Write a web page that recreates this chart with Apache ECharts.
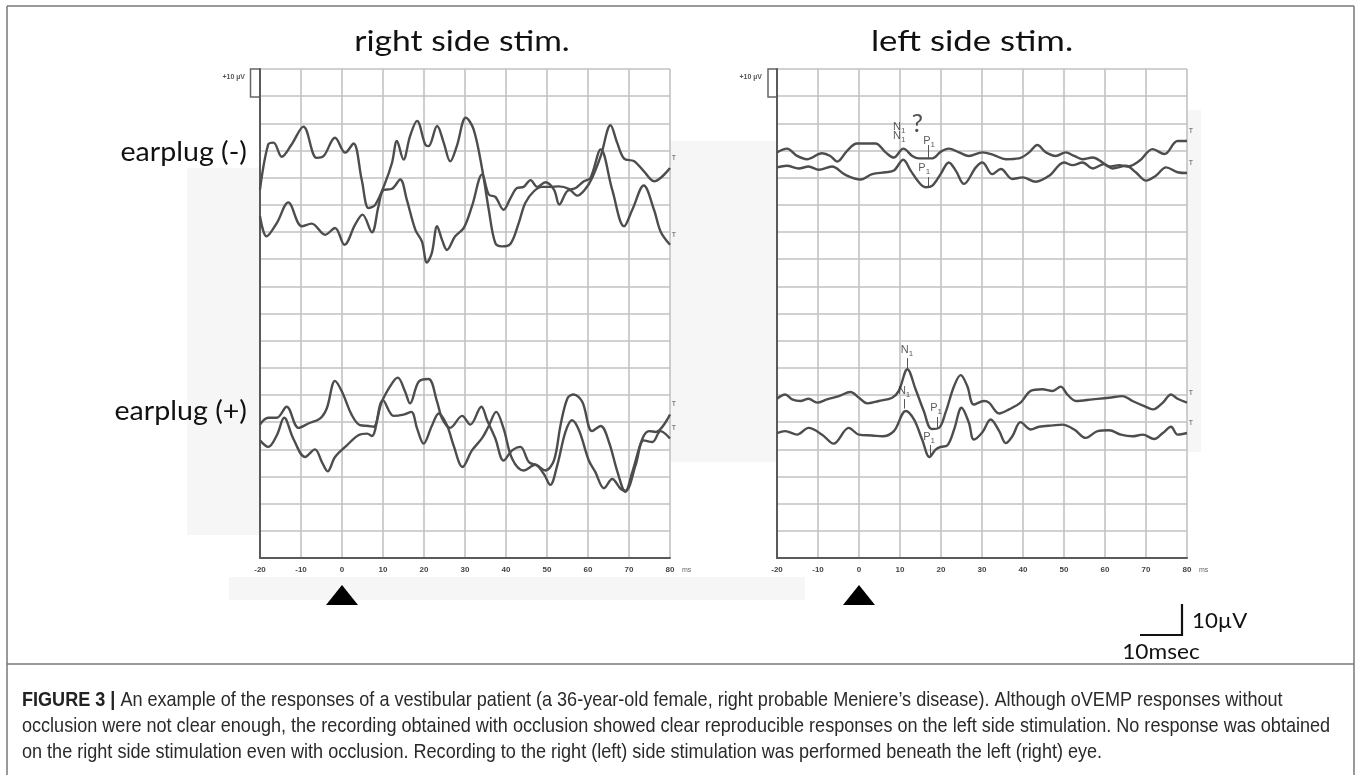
<!DOCTYPE html>
<html><head><meta charset="utf-8">
<script src="https://cdn.jsdelivr.net/npm/echarts/dist/echarts.min.js"></script>
<style>html,body{margin:0;padding:0;background:#fff}#c{width:1360px;height:775px}</style>
</head><body><div id="c"></div><script>
// ---------- DATA (time in ms, amplitude in µV on a 0..180 display scale) ----------
const timeTicks = [-20, -10, 0, 10, 20, 30, 40, 50, 60, 70, 80];
const panelTitles = ['right side stim.', 'left side stim.'];
const rowLabels = ['earplug (-)', 'earplug (+)'];

// right side stimulation, earplug (-)
const rightNoPlugA = [[-20,135.6],[-18,152.2],[-16.7,152.9],[-14.7,147.7],[-12.3,152.2],[-9.4,158.8],[-6.2,147.3],[-4.5,147.9],[-1.7,154.7],[0.8,149.2],[2.8,152.6],[4.8,139.3],[6.5,128.8],[8.1,130],[10.5,138],[12.2,145.5],[13.4,153.5],[15,146.7],[16.6,155.3],[18.3,160.9],[20.3,152.2],[21.1,151.6],[23.2,159],[24.8,152.9],[26.4,146],[28,151.6],[30.2,162.1],[32.1,157.8],[34.2,143],[35.8,128.2],[37.4,115.9],[39,114.7],[41.1,115.7],[43.1,123.3],[44.7,130.7],[46.8,135],[48.8,136.6],[50.8,136.6],[52.9,136.8],[55.3,135.9],[57.4,133.4],[59.4,135.9],[61,139.9],[63.1,147.9],[65.5,159.3],[67.1,152.9],[68.8,147],[71.2,146.1],[73.6,142.4],[76.1,138.7],[80,143.6]];
const rightNoPlugB = [[-20,125.8],[-18.4,118.4],[-15.9,123.3],[-13.1,130.9],[-9.8,122.1],[-7.4,123.1],[-4.1,119],[-1.7,121.5],[0.6,115.3],[3.2,122.7],[5,126.4],[7.3,119.9],[8.9,129.5],[10.1,135.4],[12.2,135.9],[14.2,139.3],[15.8,131.9],[17.9,120.8],[19.5,116.5],[20.7,108.8],[21.9,112.2],[23.2,122.1],[24.4,117.1],[25.6,113.4],[27.6,118.4],[29.7,121.5],[31.7,129.5],[34.2,141.2],[35.8,133.8],[37.4,132.9],[39.4,128.2],[41.1,132.5],[42.7,136.2],[44.3,136.6],[46,139.1],[47.6,136.6],[49.6,138.3],[51.7,135.6],[53,130.1],[54.9,135],[57,136.2],[59,138.7],[60.6,139.9],[63.1,150.4],[65.9,135.6],[68.8,122.1],[70.8,128.2],[73.6,137.1],[76.1,128.2],[77.7,120.2],[80,115.3]];
// right side stimulation, earplug (+)
const rightPlugA = [[-20,49.1],[-18,51.6],[-15.9,51.6],[-13.5,55.7],[-10.6,47.9],[-8.2,49.5],[-5.3,51.4],[-3.7,55.1],[-1.7,65.2],[0,61.2],[2.4,52.6],[4.4,48.9],[6.5,48.6],[7.7,48.3],[9.7,57.5],[12.2,64.3],[13.6,66.4],[15.4,61.2],[16.6,56.9],[18.7,64.9],[21.1,65.9],[23.2,57.5],[24.4,51.4],[26.4,47.9],[29.3,52.3],[31.3,49.1],[34,55.7],[35.4,50.7],[37.4,44],[39.4,35.9],[41.5,39.6],[43.5,40.9],[45.6,35.3],[47.6,34.1],[49.6,32.2],[51.7,35.9],[53.3,48.9],[55,58.8],[56.5,60.2],[58.6,57.5],[61,46.7],[63.1,48.6],[65.1,42.7],[67.2,31.6],[69.1,24.4],[70.8,31.6],[73.3,44],[74.9,46.7],[76.5,46.4],[80,52.8]];
const rightPlugB = [[-20,43.3],[-18,40.9],[-15.9,45.2],[-14.1,51.6],[-11.9,44],[-9,37.2],[-6.6,40],[-4.9,35.3],[-3.5,31.9],[-1.7,37.2],[1.2,41.5],[4,45.2],[6.1,45.8],[7.3,44.9],[10,58.1],[12.6,52.3],[15,52.8],[16.9,53.8],[18.3,47.7],[19.9,42.1],[21.9,48.6],[23.6,53.2],[25.6,48.9],[27.2,41.5],[29.4,33.5],[31.7,39.6],[34.2,44.2],[35.8,48.6],[37.6,53.8],[39.4,47.7],[41.5,36.5],[44.3,32.2],[47.1,34.3],[49.2,31],[50.8,26.9],[52.5,34.1],[54.5,46.4],[56.1,50.7],[57.8,47],[60.2,35.9],[61.8,31.6],[63.9,25.7],[65.9,29.1],[68,25.4],[69.2,24.8],[71.6,34.1],[73.6,43.3],[75.7,42.7],[77.7,46.7],[80,44]];
// left side stimulation, earplug (-)
const leftNoPlugA = [[-20,149.3],[-17.6,150.7],[-15.1,148],[-12.7,146.8],[-9,149],[-7,148],[-5.3,145.9],[-2.9,149.9],[-0.5,152.6],[4,152.6],[6.5,149.3],[8.5,147.4],[10.8,150.7],[13,148],[14.6,147.1],[17.9,147.1],[19.9,149.5],[21.9,150.7],[24.4,149.3],[26.8,148],[30.1,149.3],[32.9,148.3],[35.8,146.8],[39,147.1],[41.5,149.3],[43.5,152],[45.6,149.3],[48,148],[50.4,149.3],[52.5,148],[54.5,146.8],[57,147.4],[59.4,145.6],[61,144.1],[63.5,144.6],[65.5,144.1],[68.4,146.2],[71.6,150.5],[74.5,148.7],[77.7,153.5],[80,153.5]];
const leftNoPlugB = [[-20,143.8],[-17.6,144.4],[-14.7,143.4],[-12.3,144.1],[-9.8,142.9],[-6.6,144.1],[-3.3,141],[0.4,139.3],[3.2,141.3],[6.5,142],[8.5,142.6],[10.8,146.6],[12.6,142.6],[14.6,138.3],[16.2,136.5],[17.9,137.1],[19.9,141.3],[21.9,145.6],[23.6,142.6],[25.6,137.7],[28.5,143.8],[30.1,145.6],[32.5,141.3],[34.6,143.2],[37.4,139.5],[39.9,140.1],[43.1,138.5],[46.4,140.7],[50,145.6],[52.1,144.6],[54.5,145.6],[57,143.4],[59.8,145],[61.8,143.4],[65.1,144.4],[67.5,142],[70,138.9],[72.4,140.7],[74.9,143.8],[77.7,142],[80,141.7]];
// left side stimulation, earplug (+)
const leftPlugA = [[-20,58.6],[-18,60.2],[-16.3,58.4],[-14.3,57.8],[-12.3,58.6],[-10.2,57.2],[-7.8,58.4],[-4.9,59.6],[-2.1,61.1],[0,59],[2,56.9],[4.8,57.8],[8.1,59],[9.7,61.5],[11.8,69.5],[13.8,62.1],[15.8,54.1],[17.7,47.5],[19.5,47.9],[21.1,53.5],[23.2,63.3],[24.8,67.3],[26.4,63.3],[28,56.5],[30.5,57.8],[31.7,57.2],[34.2,53.2],[36.6,54.7],[39.4,57.2],[41.9,61.5],[44.7,62.1],[47.2,61.5],[49.2,63.1],[50.8,60.2],[52.9,57.8],[57,58.4],[61,59],[64.3,59.6],[66.7,57.8],[69.6,55.9],[71.7,54.7],[74.1,57.2],[76.1,60.2],[77.7,58.6],[80,57.2]];
const leftPlugB = [[-20,46],[-18,46.7],[-15.1,45.4],[-12.3,47.9],[-9,45.4],[-6.2,42.1],[-2.5,47.9],[0,45.4],[3.2,45.1],[5.7,44.8],[8.5,46.7],[11.4,54.1],[13.4,51],[15.4,43.6],[17.2,37.2],[18.7,39.9],[19.9,40.9],[21.5,41.4],[23.2,47.3],[25,55.3],[26.8,49.8],[28,43.6],[30.1,46.3],[32.1,51],[34.2,46.7],[35.8,42.3],[37.4,44.8],[39.4,50],[41.9,47.3],[43.9,48.3],[47.2,48.8],[49.6,49.1],[52.5,47.3],[55.3,44.2],[58.2,46.7],[61,47],[63.9,45.4],[66.7,44.8],[69.2,45.4],[72,43.8],[74.1,46],[76.1,48.3],[77.7,45.4],[80,46]];

// peak labels on the left-side-stimulation panel: [time, amplitude, label]
const peakLabels = [[9.8,158.6,'N1'],[9.8,155.2,'N1'],[17.1,153.5,'P1'],[15.9,143.5,'P1'],[11.7,76.6,'N1'],[11.0,61.5,'N1'],[18.8,55.2,'P1'],[17.1,44.5,'P1']];
const questionMark = [[14.2,159.6,'?']];
// peak marker ticks: [time, from, to]
const peakTicks = [[16.8,152,147.4],[16.8,140.2,136.4],[11.7,73.6,69.9],[11.1,58.5,55.0],[19.0,51.9,47.6],[17.4,41.6,37.6]];

// ---------- CHART ----------
const chart = echarts.init(document.getElementById('c'), null, {renderer: 'canvas'});
const gridColor = '#c2c2c2', axisColor = '#5a5a5a', traceColor = '#4d4d4d';
const gridDefs = [{left: 260, top: 69, width: 410, height: 489}, {left: 777, top: 69, width: 410, height: 489}];

function xAx(i) {
  return {
    type: 'value', gridIndex: i, min: timeTicks[0], max: timeTicks[timeTicks.length - 1], interval: 10,
    axisLine: {show: true, onZero: false, lineStyle: {color: axisColor, width: 2}},
    axisTick: {show: false},
    axisLabel: {show: true, fontSize: 8, color: '#444', margin: 8, fontFamily: 'Liberation Sans', fontWeight: 'bold',
      formatter: v => timeTicks.includes(v) ? String(v) : ''},
    splitLine: {show: true, lineStyle: {color: gridColor, width: 1.6}}
  };
}
function yAx(i) {
  return {
    type: 'value', gridIndex: i, min: 0, max: 180, interval: 10,
    axisLine: {show: true, onZero: false, lineStyle: {color: axisColor, width: 2}},
    axisTick: {show: false}, axisLabel: {show: false},
    splitLine: {show: true, lineStyle: {color: gridColor, width: 1.6}}
  };
}
function trace(data, gi) {
  return {type: 'line', xAxisIndex: gi, yAxisIndex: gi, data: data, smooth: 0.35, symbol: 'none', z: 5,
    lineStyle: {color: traceColor, width: 2.4}, silent: true,
    markPoint: {symbol: 'circle', symbolSize: 0, silent: true,
      label: {show: true, formatter: 'T', fontSize: 7, color: '#555', offset: [4, -10]},
      data: [{coord: data[data.length - 1]}]}};
}
const subRich = {n: {fontSize: 11, color: '#333', fontFamily: 'Liberation Sans'}, s: {fontSize: 8, color: '#333', verticalAlign: 'bottom', padding: [7, 0, 0, 0]}};

const series = [
  trace(rightNoPlugA, 0), trace(rightNoPlugB, 0), trace(rightPlugA, 0), trace(rightPlugB, 0),
  trace(leftNoPlugA, 1), trace(leftNoPlugB, 1), trace(leftPlugA, 1), trace(leftPlugB, 1),
  {type: 'scatter', xAxisIndex: 1, yAxisIndex: 1, symbolSize: 0, silent: true, z: 6,
    data: peakLabels,
    label: {show: true, position: 'inside', formatter: p => '{n|' + p.data[2][0] + '}{s|' + p.data[2].slice(1) + '}', rich: subRich},
    markLine: {silent: true, symbol: ['none', 'none'], label: {show: false}, lineStyle: {color: '#555', width: 1, type: 'solid'},
      data: peakTicks.map(d => [{coord: [d[0], d[1]]}, {coord: [d[0], d[2]]}])}},
  {type: 'scatter', xAxisIndex: 1, yAxisIndex: 1, symbolSize: 0, silent: true, z: 6,
    data: questionMark,
    label: {show: true, position: 'inside', formatter: p => p.data[2], fontSize: 25, color: '#222', fontFamily: 'Lato'}}
];

const shade = '#f6f6f6';
const capFont = {fontSize: 21, fontFamily: 'Liberation Sans', fill: '#2a2a2a', verticalAlign: 'middle'};
const graphic = [
  // faint scan background patches
  {type: 'rect', z: -10, shape: {x: 187, y: 168, width: 73, height: 367}, style: {fill: shade}},
  {type: 'rect', z: -10, shape: {x: 670, y: 141, width: 107, height: 321}, style: {fill: shade}},
  {type: 'rect', z: -10, shape: {x: 1187, y: 110, width: 14, height: 342}, style: {fill: shade}},
  {type: 'rect', z: -10, shape: {x: 229, y: 577, width: 576, height: 23}, style: {fill: shade}},
  // frame
  {type: 'line', shape: {x1: 7, y1: 6, x2: 1354, y2: 6}, style: {stroke: '#777', lineWidth: 1.5}},
  {type: 'line', shape: {x1: 7, y1: 6, x2: 7, y2: 775}, style: {stroke: '#777', lineWidth: 1.5}},
  {type: 'line', shape: {x1: 1354, y1: 6, x2: 1354, y2: 775}, style: {stroke: '#777', lineWidth: 1.5}},
  {type: 'line', shape: {x1: 7, y1: 664, x2: 1354, y2: 664}, style: {stroke: '#777', lineWidth: 1.5}},
  // titles
  {type: 'text', x: 462, y: 42, scaleX: 1.2, style: {text: panelTitles[0], fontSize: 28, fontFamily: 'Lato', fill: '#111', align: 'center', verticalAlign: 'middle'}},
  {type: 'text', x: 972, y: 42, scaleX: 1.24, style: {text: panelTitles[1], fontSize: 28, fontFamily: 'Lato', fill: '#111', align: 'center', verticalAlign: 'middle'}},
  {type: 'text', x: 247, y: 153, scaleX: 1.1, style: {text: rowLabels[0], fontSize: 26, fontFamily: 'Lato', fill: '#111', align: 'right', verticalAlign: 'middle'}},
  {type: 'text', x: 247, y: 412, scaleX: 1.1, style: {text: rowLabels[1], fontSize: 26, fontFamily: 'Lato', fill: '#111', align: 'right', verticalAlign: 'middle'}},
  // +10 µV calibration boxes
  {type: 'rect', shape: {x: 250.5, y: 69, width: 9.5, height: 28}, style: {fill: 'none', stroke: '#666', lineWidth: 1.5}},
  {type: 'rect', shape: {x: 768, y: 69, width: 9, height: 28}, style: {fill: 'none', stroke: '#666', lineWidth: 1.5}},
  {type: 'text', x: 245, y: 77, style: {text: '+10 µV', fontSize: 7, fontFamily: 'Liberation Sans', fontWeight: 'bold', fill: '#555', align: 'right', verticalAlign: 'middle'}},
  {type: 'text', x: 762, y: 77, style: {text: '+10 µV', fontSize: 7, fontFamily: 'Liberation Sans', fontWeight: 'bold', fill: '#555', align: 'right', verticalAlign: 'middle'}},
  // ms units
  {type: 'text', x: 682, y: 570, style: {text: 'ms', fontSize: 7, fontFamily: 'Liberation Sans', fill: '#666', verticalAlign: 'middle'}},
  {type: 'text', x: 1199, y: 570, style: {text: 'ms', fontSize: 7, fontFamily: 'Liberation Sans', fill: '#666', verticalAlign: 'middle'}},
  // stimulus triangles
  {type: 'polygon', shape: {points: [[342, 585], [326, 605], [358, 605]]}, style: {fill: '#000'}},
  {type: 'polygon', shape: {points: [[859, 585], [843, 605], [875, 605]]}, style: {fill: '#000'}},
  // scale bar
  {type: 'polyline', shape: {points: [[1140, 635], [1182, 635], [1182, 604]]}, style: {stroke: '#111', lineWidth: 2.2, fill: 'none'}},
  {type: 'text', x: 1192, y: 621, scaleX: 1.06, style: {text: '10µV', fontSize: 21, fontFamily: 'Lato', fill: '#111', verticalAlign: 'middle'}},
  {type: 'text', x: 1161, y: 652, scaleX: 1.08, style: {text: '10msec', fontSize: 21, fontFamily: 'Lato', fill: '#111', align: 'center', verticalAlign: 'middle'}},
  // caption
  {type: 'text', x: 22, y: 700, scaleX: 0.86, style: Object.assign({text: '{b|FIGURE 3 |} An example of the responses of a vestibular patient (a 36-year-old female, right probable Meniere’s disease). Although oVEMP responses without',
    rich: {b: {fontWeight: 'bold', fontSize: 21, fontFamily: 'Liberation Sans', fill: '#222'}}}, capFont)},
  {type: 'text', x: 22, y: 726, scaleX: 0.86, style: Object.assign({text: 'occlusion were not clear enough, the recording obtained with occlusion showed clear reproducible responses on the left side stimulation. No response was obtained'}, capFont)},
  {type: 'text', x: 22, y: 752, scaleX: 0.86, style: Object.assign({text: 'on the right side stimulation even with occlusion. Recording to the right (left) side stimulation was performed beneath the left (right) eye.'}, capFont)}
];

chart.setOption({
  backgroundColor: '#fff',
  animation: false,
  grid: gridDefs,
  xAxis: [xAx(0), xAx(1)],
  yAxis: [yAx(0), yAx(1)],
  series: series,
  graphic: graphic
});
</script></body></html>
